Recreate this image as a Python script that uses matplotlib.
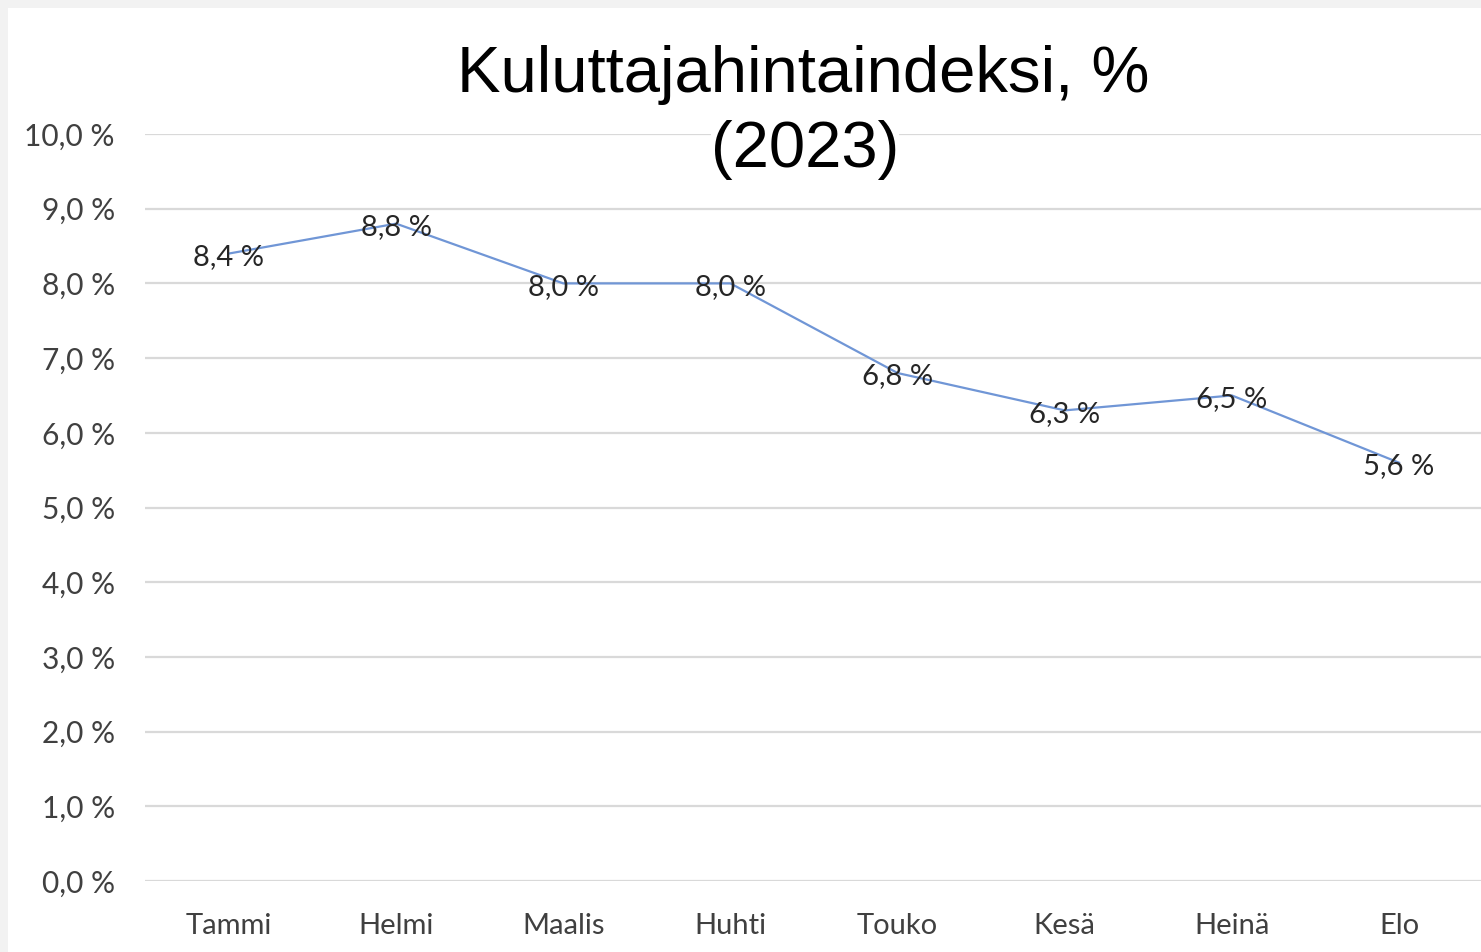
import matplotlib.pyplot as plt
from matplotlib.patches import Rectangle

months = ["Tammi", "Helmi", "Maalis", "Huhti", "Touko", "Kesä", "Heinä", "Elo"]
values = [8.4, 8.8, 8.0, 8.0, 6.8, 6.3, 6.5, 5.6]
yticks = [0, 1, 2, 3, 4, 5, 6, 7, 8, 9, 10]


def fi_pct(v):
    return f"{v:.1f}".replace(".", ",") + " %"


W, H = 1481, 952
fig = plt.figure(figsize=(W / 100, H / 100), dpi=100, facecolor="white")

# light gray screenshot frame on top and left
fig.patches.append(Rectangle((0, 1 - 8 / H), 1, 8 / H, transform=fig.transFigure,
                             facecolor="#f2f2f2", edgecolor="none", zorder=0))
fig.patches.append(Rectangle((0, 0), 8 / W, 1, transform=fig.transFigure,
                             facecolor="#f2f2f2", edgecolor="none", zorder=0))

ax = fig.add_axes([145.4 / W, (H - 881) / H, (1482.6 - 145.4) / W, (881 - 134) / H])
ax.set_facecolor("none")
x = list(range(len(months)))
ax.plot(x, values, color="#7096d6", linewidth=1.6, zorder=3)

for xi, v in zip(x, values):
    ax.annotate(fi_pct(v), (xi, v), xytext=(0, -2.5), textcoords="offset points",
                ha="center", va="center", fontsize=21, family="Lato",
                color="#262626", zorder=4)

ax.set_xlim(-0.5, 7.5)
ax.set_ylim(0, 10)
ax.set_yticks(yticks)
ax.set_yticklabels([fi_pct(t) for t in yticks], family="Lato", fontsize=21.5, color="#404040")
ax.set_xticks(x)
ax.set_xticklabels(months, family="Lato", fontsize=21, color="#404040")
ax.tick_params(length=0)
ax.tick_params(axis="y", pad=22)
ax.tick_params(axis="x", pad=23)
ax.grid(axis="y", color="#d9d9d9", linewidth=1.6)
ax.set_axisbelow(True)
for s in ax.spines.values():
    s.set_visible(False)

fig.text(803 / W, 1 - 75 / H, "Kuluttajahintaindeksi, %", ha="center", va="center",
         fontsize=47, family="Liberation Sans", color="black", zorder=5)
fig.text(805 / W, 1 - 150 / H, "(2023)", ha="center", va="center",
         fontsize=47, family="Liberation Sans", color="black",
         bbox=dict(facecolor="white", edgecolor="none", pad=0), zorder=5)

fig.savefig("out.png", dpi=100, facecolor=fig.get_facecolor())
